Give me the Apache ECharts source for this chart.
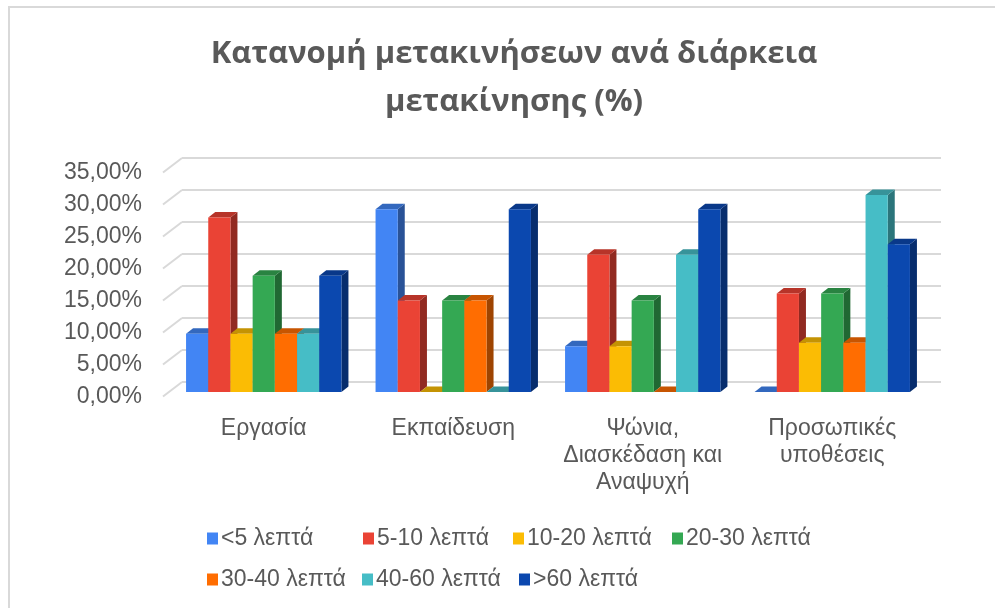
<!DOCTYPE html>
<html>
<head>
<meta charset="utf-8">
<script src="https://cdn.jsdelivr.net/npm/echarts@6/dist/echarts.min.js"></script>
<style>html,body{margin:0;padding:0;background:#fff}#c{width:995px;height:608px}</style>
</head>
<body>
<div id="c"></div>
<script>
// ---- data ----
const categories = ['Εργασία', 'Εκπαίδευση', 'Ψώνια,\nΔιασκέδαση και\nΑναψυχή', 'Προσωπικές\nυποθέσεις'];
const seriesNames = ['<5 λεπτά', '5-10 λεπτά', '10-20 λεπτά', '20-30 λεπτά', '30-40 λεπτά', '40-60 λεπτά', '>60 λεπτά'];
const lt5 = [9.09, 28.57, 7.14, 0];
const m5to10 = [27.27, 14.29, 21.43, 15.38];
const m10to20 = [9.09, 0, 7.14, 7.69];
const m20to30 = [18.18, 14.29, 14.29, 15.38];
const m30to40 = [9.09, 14.29, 0, 7.69];
const m40to60 = [9.09, 0, 21.43, 30.77];
const gt60 = [18.18, 28.57, 28.57, 23.08];
const yTicks = [0, 5, 10, 15, 20, 25, 30, 35];
const titleText = 'Κατανομή μετακινήσεων ανά διάρκεια\nμετακίνησης (%)';

const seriesValues = [lt5, m5to10, m10to20, m20to30, m30to40, m40to60, gt60];
const colors = ['#4285F4', '#EA4335', '#FBBC04', '#34A853', '#FF6D01', '#46BDC6', '#0B48AF'];
const legendPos = [[202, 522], [358, 522], [508, 522], [667, 522], [202, 563], [357, 563], [514, 563]];

function shade(hex, f) {
  const n = parseInt(hex.slice(1), 16);
  const r = Math.round(((n >> 16) & 255) * f), g = Math.round(((n >> 8) & 255) * f), b = Math.round((n & 255) * f);
  return 'rgb(' + r + ',' + g + ',' + b + ')';
}

const GAP = 0.18, NS = seriesNames.length, DX = 7, DY = 5.5;
const extrudeData = [];
categories.forEach((c, ci) => seriesValues.forEach((arr, si) => extrudeData.push([ci, si, arr[ci]])));
const tickData = yTicks.map(v => [0, v]);

const font = 'Liberation Sans';
const chart = echarts.init(document.getElementById('c'), null, {renderer: 'canvas'});

const barSeries = seriesNames.map((name, i) => ({
  name, type: 'bar', xAxisIndex: 0, yAxisIndex: 0,
  data: seriesValues[i], barGap: '0%', barCategoryGap: (GAP * 100) + '%',
  itemStyle: {color: colors[i]}, z: 5, animation: false
}));

chart.setOption({
  animation: false,
  color: colors,
  title: {
    text: titleText, left: 509, top: 25, textAlign: 'center',
    textStyle: {fontFamily: 'Open Sans', fontWeight: 'bold', fontSize: 31, color: '#595959', lineHeight: 48}
  },
  graphic: [
    {type: 'polyline', shape: {points: [[9, 608], [9, 7], [995, 7]]}, style: {stroke: '#d9d9d9', lineWidth: 2, fill: null}, silent: true}
  ],
  legend: seriesNames.map((n, i) => ({
    data: [n], left: legendPos[i][0], top: legendPos[i][1], itemWidth: 11, itemHeight: 12, itemGap: 0,
    icon: 'rect', textStyle: {fontFamily: font, fontSize: 23, color: '#595959', padding: [0, 0, 0, -2]}
  })),
  grid: [
    {left: 169, right: 68, top: 168, height: 224},
    {left: 182, right: 54, top: 158, height: 224},
    {left: 169, right: 68, top: 173, height: 224}
  ],
  xAxis: [
    {type: 'category', gridIndex: 0, data: categories, axisLine: {show: false}, axisTick: {show: false},
     axisLabel: {fontFamily: font, fontSize: 23, color: '#595959', margin: 23, lineHeight: 27, interval: 0}},
    {type: 'category', gridIndex: 1, data: categories, show: false},
    {type: 'category', gridIndex: 2, data: categories, show: false}
  ],
  yAxis: [
    {type: 'value', gridIndex: 0, min: 0, max: 35, interval: 5, show: false},
    {type: 'value', gridIndex: 1, min: 0, max: 35, interval: 5, axisLine: {show: false}, axisTick: {show: false}, axisLabel: {show: false},
     splitLine: {lineStyle: {color: '#d9d9d9', width: 2}}},
    {type: 'value', gridIndex: 2, min: 0, max: 35, interval: 5, splitLine: {show: false}, axisLine: {show: false}, axisTick: {show: false},
     axisLabel: {fontFamily: font, fontSize: 23, color: '#595959', margin: 27,
       formatter: v => v.toFixed(2).replace('.', ',') + '%'}}
  ],
  series: [
    {
      type: 'custom', xAxisIndex: 1, yAxisIndex: 1, data: tickData, z: 1, silent: true,
      renderItem: (params, api) => {
        const y = api.coord([0, api.value(1)])[1];
        const x = params.coordSys.x;
        return {type: 'line', shape: {x1: x - 19, y1: y + 14.5, x2: x, y2: y}, style: {stroke: '#d9d9d9', lineWidth: 2}};
      }
    },
    {
      type: 'custom', xAxisIndex: 0, yAxisIndex: 0, data: extrudeData, z: 3, silent: true,
      renderItem: (params, api) => {
        const ci = api.value(0), si = api.value(1), v = api.value(2);
        const base = api.coord([ci, 0]);
        const top = api.coord([ci, v]);
        const band = api.size([1, 0])[0];
        const bw = band * (1 - GAP) / NS;
        const x0 = base[0] - bw * NS / 2 + si * bw;
        const x1 = x0 + bw, yt = top[1], yb = base[1];
        const c = colors[si];
        return {type: 'group', children: [
          {type: 'polygon', shape: {points: [[x1, yt], [x1 + DX, yt - DY], [x1 + DX, yb - DY], [x1, yb]]}, style: {fill: shade(c, 0.62)}},
          {type: 'polygon', shape: {points: [[x0, yt], [x1, yt], [x1 + DX, yt - DY], [x0 + DX, yt - DY]]}, style: {fill: shade(c, 0.78)}}
        ]};
      }
    }
  ].concat(barSeries)
});
</script>
</body>
</html>
